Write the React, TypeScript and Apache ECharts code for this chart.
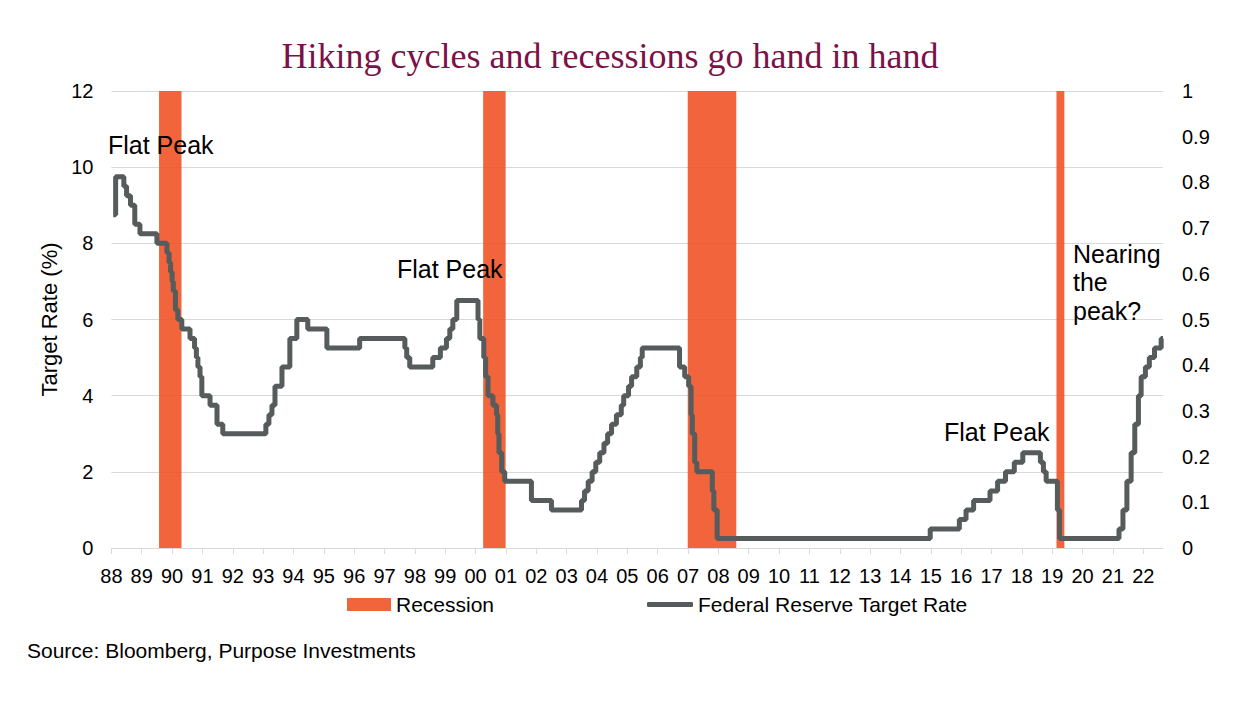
import React, { useEffect, useRef } from "react";
import * as echarts from "echarts";

// Federal Reserve target rate: change points (chart-axis year, rate %)
const rateDates = [
  1988.06, 1988.14, 1988.41, 1988.5, 1988.63, 1988.77, 1988.94, 1989.5, 1989.83, 1989.9,
  1989.95, 1990.0, 1990.04, 1990.11, 1990.19, 1990.32, 1990.59, 1990.74, 1990.8, 1990.85,
  1990.92, 1990.98, 1991.25, 1991.48, 1991.67, 1993.09, 1993.19, 1993.29, 1993.39, 1993.62,
  1993.88, 1994.11, 1994.47, 1995.1, 1996.18, 1997.67, 1997.73, 1997.83, 1998.59, 1998.84,
  1999.04, 1999.15, 1999.25, 1999.38, 2000.08, 2000.14, 2000.27, 2000.33, 2000.41, 2000.57,
  2000.69, 2000.73, 2000.77, 2000.86, 2000.96, 2001.84, 2002.5, 2003.49, 2003.59, 2003.71,
  2003.84, 2003.96, 2004.09, 2004.23, 2004.35, 2004.48, 2004.64, 2004.8, 2004.88, 2005.04,
  2005.14, 2005.31, 2005.43, 2005.49, 2006.72, 2006.89, 2007.02, 2007.1, 2007.14, 2007.22,
  2007.29, 2007.8, 2007.85, 2007.96, 2014.98, 2015.94, 2016.16, 2016.41, 2016.95, 2017.2,
  2017.46, 2017.75, 2018.03, 2018.61, 2018.71, 2018.8, 2019.17, 2019.24, 2021.2, 2021.33,
  2021.46, 2021.6, 2021.72, 2021.84, 2021.93, 2022.07, 2022.2, 2022.37, 2022.59, 2022.65,
];
const rates = [
  8.75, 9.75, 9.5, 9.25, 9.0, 8.5, 8.25, 8.0, 7.75, 7.5,
  7.25, 7.0, 6.75, 6.25, 6.0, 5.75, 5.5, 5.25, 5.0, 4.75,
  4.5, 4.0, 3.75, 3.25, 3.0, 3.25, 3.5, 3.75, 4.25, 4.75,
  5.5, 6.0, 5.75, 5.25, 5.5, 5.25, 5.0, 4.75, 5.0, 5.25,
  5.5, 5.75, 6.0, 6.5, 6.0, 5.5, 5.0, 4.5, 4.0, 3.75,
  3.5, 3.0, 2.5, 2.0, 1.75, 1.25, 1.0, 1.25, 1.5, 1.75,
  2.0, 2.25, 2.5, 2.75, 3.0, 3.25, 3.5, 3.75, 4.0, 4.25,
  4.5, 4.75, 5.0, 5.25, 4.75, 4.5, 4.25, 3.5, 3.0, 2.25,
  2.0, 1.5, 1.0, 0.25, 0.5, 0.75, 1.0, 1.25, 1.5, 1.75,
  2.0, 2.25, 2.5, 2.25, 2.0, 1.75, 1.0, 0.25, 0.5, 1.0,
  1.75, 2.5, 3.25, 4.0, 4.5, 4.75, 5.0, 5.25, 5.5, 5.5,
];

// Recession periods (chart-axis years)
const recessionStarts = [1989.57, 2000.25, 2006.99, 2019.14];
const recessionEnds = [1990.31, 2000.99, 2008.59, 2019.4];

// X tick years
const tickYears: number[] = [];
for (let y = 1988; y <= 2022; y++) tickYears.push(y);

const TITLE = "Hiking cycles and recessions go hand in hand";
const SOURCE = "Source: Bloomberg, Purpose Investments";

const FONT = "'Liberation Sans', Arial, sans-serif";
const GRID = "#D9D9D9";
const LINE = "#565B5C";
const RED = "rgba(239,79,33,0.88)";

export default function App() {
  const ref = useRef<HTMLDivElement>(null);
  useEffect(() => {
    if (!ref.current) return;
    const chart = echarts.init(ref.current, null, { renderer: "svg" });
    const lineData = rateDates.map((d, i) => [d, rates[i]]);
    const recData = recessionStarts.map((s, i) => [s, recessionEnds[i]]);
    const labelStyle = { fontSize: 20, color: "#000", fontFamily: FONT };
    chart.setOption({
      animation: false,
      grid: { left: 111.4, right: 86, top: 91, bottom: 160 },
      xAxis: {
        type: "value",
        min: 1988,
        max: 2022.65,
        interval: 1,
        axisLine: { show: true, lineStyle: { color: GRID, width: 1 } },
        axisTick: { show: true, customValues: tickYears, length: 6, lineStyle: { color: GRID } },
        axisLabel: {
          customValues: tickYears,
          margin: 18,
          ...labelStyle,
          formatter: (v: number) => String(Math.round(v) % 100).padStart(2, "0"),
        },
        splitLine: { show: false },
      },
      yAxis: [
        {
          type: "value",
          min: 0,
          max: 12,
          interval: 2,
          name: "Target Rate (%)",
          nameLocation: "middle",
          nameGap: 48,
          nameTextStyle: { fontSize: 22, color: "#000", fontFamily: FONT },
          axisLine: { show: false },
          axisTick: { show: false },
          axisLabel: { margin: 18, ...labelStyle },
          splitLine: { lineStyle: { color: GRID, width: 1 } },
        },
        {
          type: "value",
          min: 0,
          max: 1,
          interval: 0.1,
          position: "right",
          axisLine: { show: false },
          axisTick: { show: false },
          axisLabel: { margin: 19, ...labelStyle },
          splitLine: { show: false },
        },
      ],
      legend: [
        {
          data: [{ name: "Recession", icon: "rect" }],
          left: 342,
          top: 589,
          itemWidth: 44,
          itemHeight: 13,
          textStyle: { fontSize: 21, color: "#000", fontFamily: FONT },
          selectedMode: false,
        },
        {
          data: [{ name: "Federal Reserve Target Rate", icon: "roundRect" }],
          left: 642,
          top: 589,
          itemWidth: 46,
          itemHeight: 5,
          textStyle: { fontSize: 21, color: "#000", fontFamily: FONT },
          selectedMode: false,
        },
      ],
      graphic: [
        {
          type: "text",
          x: 610,
          y: 56,
          style: {
            text: TITLE,
            fontSize: 36,
            fontFamily: "'Liberation Serif', 'Times New Roman', serif",
            fill: "#7B1148",
            align: "center",
            verticalAlign: "middle",
          },
        },
        {
          type: "text",
          x: 108,
          y: 144.5,
          style: { text: "Flat Peak", fontSize: 25, fontFamily: FONT, fill: "#000", verticalAlign: "middle" },
          z: 10,
        },
        {
          type: "text",
          x: 397,
          y: 269,
          style: { text: "Flat Peak", fontSize: 25, fontFamily: FONT, fill: "#000", verticalAlign: "middle" },
          z: 10,
        },
        {
          type: "text",
          x: 944,
          y: 431.5,
          style: { text: "Flat Peak", fontSize: 25, fontFamily: FONT, fill: "#000", verticalAlign: "middle" },
          z: 10,
        },
        {
          type: "text",
          x: 1073,
          y: 239.5,
          style: {
            text: "Nearing\nthe\npeak?",
            fontSize: 25,
            lineHeight: 28.5,
            fontFamily: FONT,
            fill: "#000",
            verticalAlign: "top",
          },
          z: 10,
        },
        {
          type: "text",
          x: 27,
          y: 650,
          style: { text: SOURCE, fontSize: 21, fontFamily: FONT, fill: "#000", verticalAlign: "middle" },
        },
      ],
      series: [
        {
          name: "Recession",
          type: "custom",
          xAxisIndex: 0,
          yAxisIndex: 0,
          itemStyle: { color: RED },
          encode: { x: [0, 1] },
          data: recData,
          z: 1,
          renderItem: (params: any, api: any) => {
            const p0 = api.coord([api.value(0), 12]);
            const p1 = api.coord([api.value(1), 0]);
            return {
              type: "rect",
              shape: { x: p0[0], y: p0[1], width: p1[0] - p0[0], height: p1[1] - p0[1] },
              style: { fill: RED },
            };
          },
        },
        {
          name: "Federal Reserve Target Rate",
          type: "line",
          step: "end",
          xAxisIndex: 0,
          yAxisIndex: 0,
          showSymbol: false,
          symbol: "none",
          data: lineData,
          itemStyle: { color: LINE },
          lineStyle: { color: LINE, width: 5 },
          z: 3,
        },
      ],
    });
    return () => chart.dispose();
  }, []);
  return (
    <div
      ref={ref}
      style={{ position: "fixed", left: 0, top: 0, width: 1249, height: 708, background: "#fff" }}
    />
  );
}
